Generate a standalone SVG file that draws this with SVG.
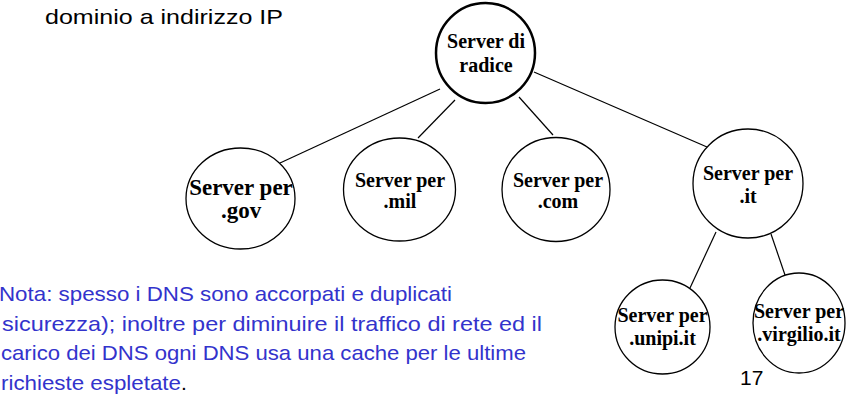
<svg xmlns="http://www.w3.org/2000/svg" width="850" height="408" viewBox="0 0 850 408">
<style>
.node ellipse{fill:#fff;stroke:#000;stroke-width:1.3}
.node text{font-family:"Liberation Serif","Times New Roman",serif;font-weight:bold;font-size:20px;text-anchor:middle;fill:#000}
#connectors line{stroke:#000;stroke-width:1.2}
.body{font-family:"Liberation Sans",Arial,sans-serif;font-size:21px}
.note{fill:#3333CC}
</style>
<rect width="850" height="408" fill="#fff"/>
<text class="body" x="45" y="24" font-size="22" textLength="238" lengthAdjust="spacingAndGlyphs">dominio a indirizzo IP</text>
<g id="connectors">
<line x1="440" y1="89" x2="280" y2="163"/>
<line x1="455" y1="100" x2="418" y2="138"/>
<line x1="519" y1="97" x2="553" y2="135"/>
<line x1="534" y1="72" x2="707" y2="147"/>
<line x1="716" y1="232" x2="690" y2="288"/>
<line x1="771" y1="234" x2="785" y2="275"/>
</g>
<g id="root" class="node">
<ellipse cx="485.5" cy="53" rx="49.5" ry="50" style="stroke-width:2.5"/>
<text x="486" y="48">Server di</text>
<text x="486" y="72">radice</text>
</g>
<g id="gov" class="node">
<ellipse cx="240.5" cy="198.5" rx="54.5" ry="50.5"/>
<text x="241" y="195" style="font-size:23px">Server per</text>
<text x="241" y="218" style="font-size:23px">.gov</text>
</g>
<g id="mil" class="node">
<ellipse cx="399.5" cy="189.5" rx="56" ry="51.5"/>
<text x="400" y="187">Server per</text>
<text x="400" y="208">.mil</text>
</g>
<g id="com" class="node">
<ellipse cx="556" cy="189.5" rx="54" ry="52"/>
<text x="558" y="187">Server per</text>
<text x="558" y="208">.com</text>
</g>
<g id="it" class="node">
<ellipse cx="748" cy="183.5" rx="55" ry="54.5"/>
<text x="748" y="180">Server per</text>
<text x="748" y="203">.it</text>
</g>
<g id="unipi" class="node">
<ellipse cx="662.5" cy="327" rx="47.5" ry="47"/>
<text x="662.5" y="322">Server per</text>
<text x="662.5" y="345">.unipi.it</text>
</g>
<g id="virgilio" class="node">
<ellipse cx="799" cy="323" rx="46" ry="50"/>
<text x="799" y="318">Server per</text>
<text x="799" y="341">.virgilio.it</text>
</g>
<text class="body note" x="-1" y="301" textLength="453" lengthAdjust="spacingAndGlyphs">Nota: spesso i DNS sono accorpati e duplicati</text>
<text class="body note" x="2" y="331" textLength="540" lengthAdjust="spacingAndGlyphs">sicurezza); inoltre per diminuire il traffico di rete ed il</text>
<text class="body note" x="1" y="360" textLength="525" lengthAdjust="spacingAndGlyphs">carico dei DNS ogni DNS usa una cache per le ultime</text>
<text class="body" x="1" y="390"><tspan class="note" textLength="180" lengthAdjust="spacingAndGlyphs">richieste espletate</tspan><tspan fill="#000">.</tspan></text>
<text class="body" x="740" y="385" font-size="20" fill="#000">17</text>
</svg>
